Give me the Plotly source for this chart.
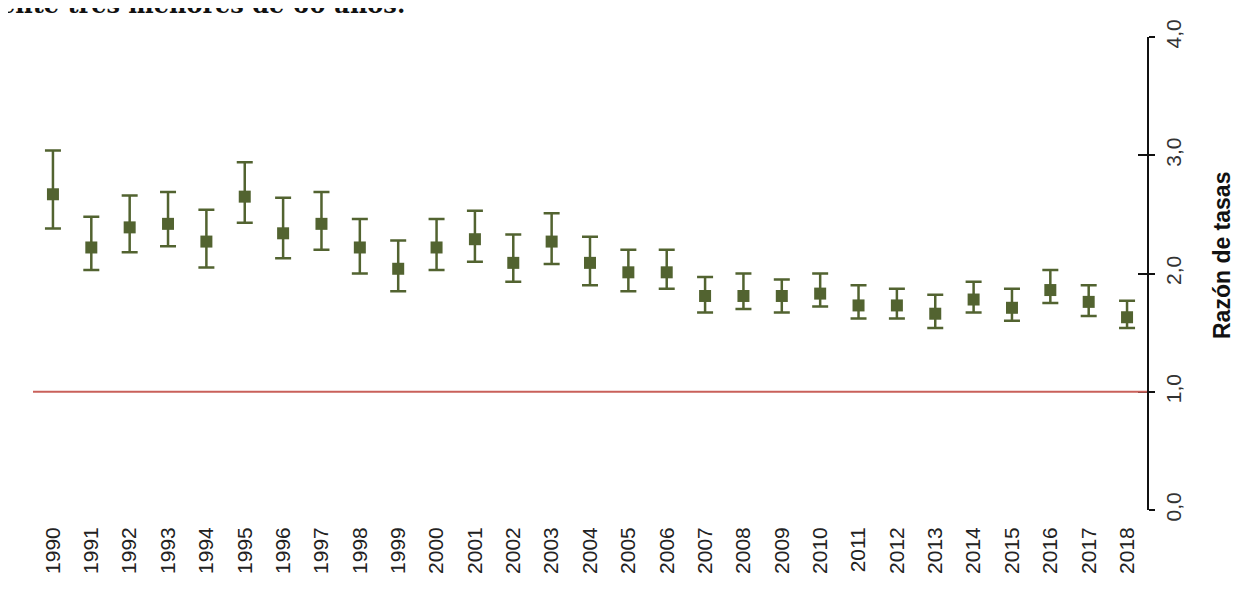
import plotly.graph_objects as go

years = list(range(1990, 2019))
rate_ratio = [2.67, 2.22, 2.39, 2.42, 2.27, 2.65, 2.34, 2.42, 2.22, 2.04,
              2.22, 2.29, 2.09, 2.27, 2.09, 2.01, 2.01, 1.81, 1.81, 1.81,
              1.83, 1.73, 1.73, 1.66, 1.78, 1.71, 1.86, 1.76, 1.63]
upper_ci = [3.04, 2.48, 2.66, 2.69, 2.54, 2.94, 2.64, 2.69, 2.46, 2.28,
            2.46, 2.53, 2.33, 2.51, 2.31, 2.20, 2.20, 1.97, 2.00, 1.95,
            2.00, 1.90, 1.87, 1.82, 1.93, 1.87, 2.03, 1.90, 1.77]
lower_ci = [2.38, 2.03, 2.18, 2.23, 2.05, 2.43, 2.13, 2.20, 2.00, 1.85,
            2.03, 2.10, 1.93, 2.08, 1.90, 1.85, 1.87, 1.67, 1.70, 1.67,
            1.72, 1.62, 1.62, 1.54, 1.67, 1.60, 1.75, 1.64, 1.54]
y_ticks = [0, 1, 2, 3, 4]
y_tick_labels = ['0,0', '1,0', '2,0', '3,0', '4,0']

green = '#526330'

fig = go.Figure()
fig.add_trace(go.Scatter(
    x=years,
    y=rate_ratio,
    mode='markers',
    marker=dict(symbol='square', size=12, color=green),
    error_y=dict(
        type='data',
        symmetric=False,
        array=[u - r for u, r in zip(upper_ci, rate_ratio)],
        arrayminus=[r - l for r, l in zip(rate_ratio, lower_ci)],
        color=green,
        thickness=2.5,
        width=8,
    ),
    showlegend=False,
))
# invisible trace so the second (inside-tick) axis gets drawn
fig.add_trace(go.Scatter(x=[years[0]], y=[0], yaxis='y2', mode='markers',
                         marker=dict(opacity=0), showlegend=False, hoverinfo='skip'))

fig.add_hline(y=1, line=dict(color='#c9605a', width=2))

# page has an 8px body margin, so the figure is a bit smaller than the window
fig.update_layout(
    width=1248,
    height=596,
    margin=dict(l=25, r=109, t=29, b=94),
    plot_bgcolor='white',
    paper_bgcolor='white',
    font=dict(family='Liberation Sans, Arial, sans-serif', color='#222222'),
    xaxis=dict(
        range=[1989.48, 2018.52],
        tickmode='array',
        tickvals=years,
        ticktext=[str(y) for y in years],
        tickangle=-90,
        tickfont=dict(size=21, color='#222222'),
        showgrid=False,
        showline=False,
        zeroline=False,
        ticks='',
        ticklabelstandoff=12,
    ),
    yaxis=dict(
        range=[0, 4],
        side='right',
        tickmode='array',
        tickvals=y_ticks,
        ticktext=y_tick_labels,
        tickangle=-90,
        tickfont=dict(size=21, color='#333333'),
        showgrid=False,
        zeroline=False,
        showline=True,
        linecolor='#111111',
        linewidth=2,
        ticks='outside',
        ticklen=6,
        tickwidth=2,
        tickcolor='#111111',
        ticklabelstandoff=1,
    ),
    yaxis2=dict(
        range=[0, 4],
        overlaying='y',
        side='right',
        tickmode='array',
        tickvals=y_ticks,
        showticklabels=False,
        showgrid=False,
        zeroline=False,
        showline=False,
        ticks='inside',
        ticklen=9,
        tickwidth=2,
        tickcolor='#111111',
    ),
)

fig.add_annotation(
    text='<b>Razón de tasas</b>',
    xref='paper', yref='paper',
    x=(1214 - 25) / 1114, y=(502 - 248) / 473,
    xanchor='center', yanchor='middle',
    textangle=-90,
    showarrow=False,
    font=dict(size=23, color='#111111', family='Liberation Sans, Arial, sans-serif'),
)

# title line cut off at the top of the picture
fig.add_annotation(
    text='<b>ente tres menores de 60 años.</b>',
    xref='paper', yref='paper',
    x=(399 - 25) / 1114, y=(502 - 13) / 473,
    xanchor='right', yanchor='bottom',
    showarrow=False,
    font=dict(size=24, color='#111111', family='DejaVu Serif'),
)

fig.write_html('out.html')
